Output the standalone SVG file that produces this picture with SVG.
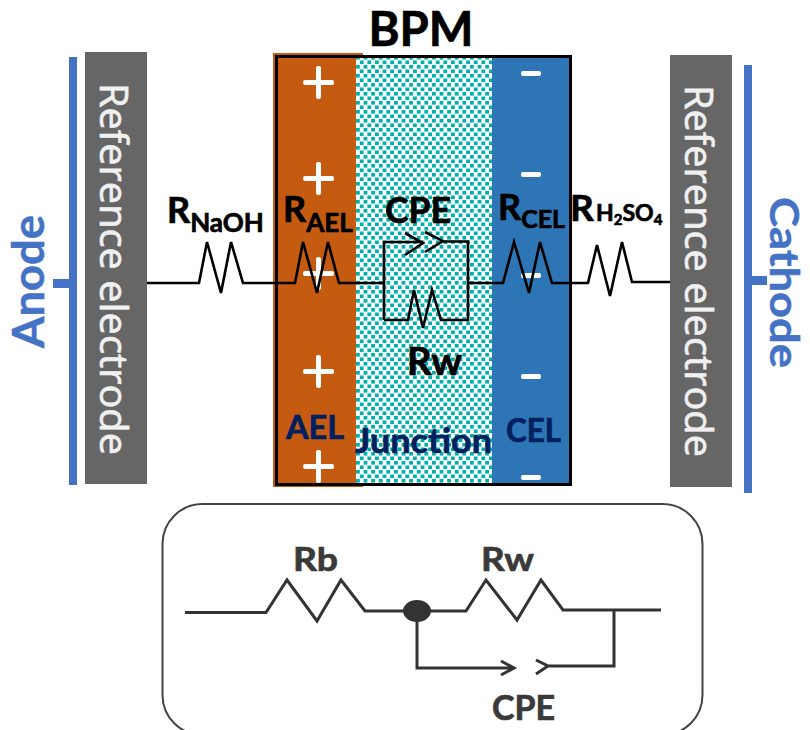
<svg xmlns="http://www.w3.org/2000/svg" width="810" height="730" viewBox="0 0 810 730">
<style>
text{font-family:Lato,"Liberation Sans",sans-serif;font-weight:700}
.w{fill:none;stroke:#000;stroke-width:2.6;stroke-linejoin:miter}
.g{fill:none;stroke:#333;stroke-width:3}
.blue{fill:#4472C4}
.grey{fill:#666}
.ref{font-family:"Open Sans","Noto Sans",sans-serif;font-weight:400;fill:#f0f0f0;stroke:#f0f0f0;stroke-width:.7;font-size:39px}
.sign{fill:#fff}
.navy{fill:#002060;stroke:#002060;stroke-width:.7}
.dk{fill:#3a3a3a;stroke:#3a3a3a;stroke-width:.7}
.el{font-size:43px;fill:#4472C4;stroke:#4472C4;stroke-width:.5}
.k{fill:#000;stroke:#000;stroke-width:.7}
</style>
<defs>
<pattern id="chk" patternUnits="userSpaceOnUse" x="356" y="56" width="7.6" height="9">
<rect width="7.6" height="9" fill="#fff"/>
<rect x="0" y="0" width="3.8" height="3.6" fill="#00B0AC"/>
<rect x="3.8" y="4.5" width="3.8" height="3.6" fill="#00B0AC"/>
</pattern>
</defs>
<g id="anode">
<rect class="blue" x="69" y="57" width="8" height="428"/>
<rect class="blue" x="53" y="279" width="16" height="9"/>
<text class="el" transform="translate(44 348) rotate(-90)" textLength="133" lengthAdjust="spacingAndGlyphs">Anode</text>
</g>
<g id="ref-left">
<rect class="grey" x="85" y="52" width="62" height="432"/>
<text class="ref" transform="translate(100 83) rotate(90)" textLength="372" lengthAdjust="spacingAndGlyphs">Reference electrode</text>
</g>
<g id="cathode">
<rect class="blue" x="744" y="65" width="8" height="428"/>
<rect class="blue" x="752" y="276" width="15" height="9"/>
<text class="el" style="font-size:40px" transform="translate(770 197) rotate(90)" textLength="171" lengthAdjust="spacingAndGlyphs">Cathode</text>
</g>
<g id="ref-right">
<rect class="grey" x="670" y="55" width="62" height="432"/>
<text class="ref" transform="translate(685 85) rotate(90)" textLength="372" lengthAdjust="spacingAndGlyphs">Reference electrode</text>
</g>
<g id="bpm">
<text class="k" x="421" y="46" font-size="48" text-anchor="middle" textLength="105" lengthAdjust="spacingAndGlyphs">BPM</text>
</g>
<g id="ael">
<path d="M273 53H363V57H356V483H363V487H273Z" fill="#C55A11"/>
<g class="sign">
<rect x="303" y="80" width="31" height="5" rx="2"/><rect x="316" y="66" width="5" height="33" rx="2"/>
<rect x="303" y="176" width="31" height="5" rx="2"/><rect x="316" y="162" width="5" height="33" rx="2"/>
<rect x="303" y="271" width="31" height="5" rx="2"/><rect x="316" y="257" width="5" height="33" rx="2"/>
<rect x="303" y="369" width="31" height="5" rx="2"/><rect x="316" y="355" width="5" height="33" rx="2"/>
<rect x="303" y="464" width="31" height="5" rx="2"/><rect x="316" y="450" width="5" height="33" rx="2"/>
</g>
<text class="navy" x="286" y="439" font-size="33" textLength="58" lengthAdjust="spacingAndGlyphs">AEL</text>
</g>
<g id="junction">
<rect x="356" y="57" width="136" height="427" fill="url(#chk)"/>
<text class="navy" x="355" y="453" font-size="35" textLength="137" lengthAdjust="spacingAndGlyphs">Junction</text>
</g>
<g id="cel">
<rect x="492" y="57" width="79" height="427" fill="#2E75B6"/>
<g class="sign">
<rect x="521" y="71" width="20" height="5" rx="2"/>
<rect x="521" y="172" width="20" height="5" rx="2"/>
<rect x="521" y="273" width="20" height="5" rx="2"/>
<rect x="521" y="374" width="20" height="5" rx="2"/>
<rect x="521" y="475" width="20" height="5" rx="2"/>
</g>
<text class="navy" x="506" y="442" font-size="33" textLength="55" lengthAdjust="spacingAndGlyphs">CEL</text>
</g>
<rect id="bpm-frame" x="276.500" y="56.500" width="294" height="428" fill="none" stroke="#000" stroke-width="3"/>
<g id="connectors">
<path class="w" d="M147 283H199L207 242L221 293L231 242L243 283H295L303 242L317 293L328 242L339 283H384"/>
<path class="w" d="M384 320V242H423M405 233L423 243L405 255M425 232L443 241L425 252M443 241.500H468V320H441L432 290L423 328L414 290L408 320H384"/>
<path class="w" d="M468 283H503L514 242L529 293L540 242L552 283H588L597 245L610 296L622 242L632 282H670"/>
</g>
<g id="labels">
<text class="k" x="167" y="223" font-size="36">R<tspan font-size="26" dy="9">NaOH</tspan></text>
<text class="k" x="283" y="222" font-size="36">R<tspan font-size="26" dy="10">AEL</tspan></text>
<text class="k" x="385" y="223" font-size="36" textLength="66" lengthAdjust="spacingAndGlyphs">CPE</text>
<text class="k" x="498" y="220" font-size="36">R<tspan font-size="25" dy="8">CEL</tspan></text>
<text class="k" x="570" y="221" font-size="37">R<tspan font-size="23" x="596">H</tspan><tspan font-size="15" dy="4">2</tspan><tspan font-size="23" dy="-4">SO</tspan><tspan font-size="15" dy="4">4</tspan></text>
<text class="k" x="407" y="375" font-size="38" textLength="55" lengthAdjust="spacingAndGlyphs">Rw</text>
</g>
<g id="inset">
<rect x="162.500" y="504" width="540" height="231" rx="40" fill="#fff" stroke="#444" stroke-width="2"/>
<path class="g" d="M185 612.500H266L287 580L317 621L341 580L365 611H466L486 580L517 620L541 580L563 610H661"/>
<ellipse cx="417" cy="611" rx="14" ry="11" fill="#333"/>
<path class="g" d="M417 611V668H513M501 661L514 668L501 675M536 660L548 666L536 674M548 666H614V610"/>
<text class="dk" x="293" y="571" font-size="33" textLength="45" lengthAdjust="spacingAndGlyphs">Rb</text>
<text class="dk" x="481" y="571" font-size="33" textLength="53" lengthAdjust="spacingAndGlyphs">Rw</text>
<text class="dk" x="492" y="720" font-size="35" textLength="63" lengthAdjust="spacingAndGlyphs">CPE</text>
</g>
</svg>
